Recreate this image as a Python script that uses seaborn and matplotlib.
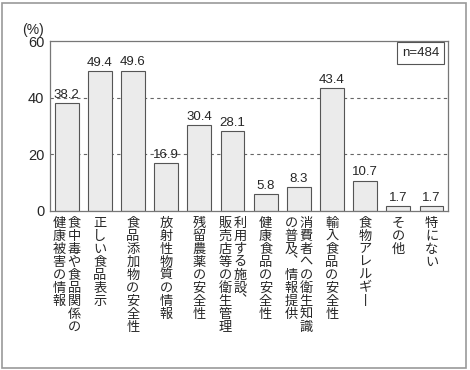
import matplotlib
matplotlib.use("Agg")
import matplotlib.pyplot as plt
import seaborn as sns
import pandas as pd
from matplotlib.patches import Rectangle

# 項目 (縦書きの列ごと、右の列から)
label_cols = [
    ["食中毒や食品関係の", "健康被害の情報"],
    ["正しい食品表示"],
    ["食品添加物の安全性"],
    ["放射性物質の情報"],
    ["残留農薬の安全性"],
    ["利用する施設︑", "販売店等の衛生管理"],
    ["健康食品の安全性"],
    ["消費者への衛生知識", "の普及︑情報提供"],
    ["輸入食品の安全性"],
    ["食物アレルギ丨"],
    ["その他"],
    ["特にない"],
]
values = [38.2, 49.4, 49.6, 16.9, 30.4, 28.1, 5.8, 8.3, 43.4, 10.7, 1.7, 1.7]
y_ticks = [0, 20, 40, 60]
n_text = "n=484"

df = pd.DataFrame({"item": ["".join(c) for c in label_cols], "pct": values})

sns.set_theme(style="white")
plt.rcParams["font.family"] = ["Liberation Sans", "Noto Sans CJK JP", "DejaVu Sans"]

fig = plt.figure(figsize=(4.7, 3.7), dpi=100)
ax = fig.add_axes([0.1064, 0.43, 0.847, 0.459])

sns.barplot(data=df, x="item", y="pct", color="#ebebeb", edgecolor="#555555",
            linewidth=0.8, width=0.72, saturation=1, ax=ax)

ax.set_ylim(0, 60)
ax.set_yticks(y_ticks)
ax.set_yticklabels([str(t) for t in y_ticks], fontsize=10.5)
ax.tick_params(axis="y", length=0, pad=4)
ax.set_xticks([])
ax.set_xlabel("")
ax.set_ylabel("")
for s in ax.spines.values():
    s.set_color("#777777")
    s.set_linewidth(0.9)

for t in y_ticks[1:-1]:
    ax.axhline(t, color="#666666", linestyle=(0, (3, 3)), linewidth=0.8, zorder=0)

# 値ラベル
for i, v in enumerate(values):
    ax.text(i, v + 0.8, f"{v:.1f}", ha="center", va="bottom", fontsize=9.5)

# 縦書きの項目名
for i, cols in enumerate(label_cols):
    k = len(cols)
    for j, col in enumerate(cols):
        dx = 0.45 * ((k - 1) / 2 - j)
        ax.text(i + dx, -2.0, "\n".join(col), ha="center", va="top",
                fontsize=9.5, linespacing=1.0, family="Noto Sans CJK JP",
                clip_on=False)

ax.text(-0.043, 1.025, "(%)", transform=ax.transAxes, ha="center", va="bottom", fontsize=10)

ax.text(0.978, 0.93, n_text, transform=ax.transAxes, ha="right", va="center",
        fontsize=9.5,
        bbox=dict(boxstyle="square,pad=0.35", fc="white", ec="#555555", lw=0.8))

fig.patches.append(Rectangle((0.004, 0.006), 0.988, 0.985, transform=fig.transFigure,
                             fill=False, ec="#999999", lw=1.2))

fig.savefig("out.png", dpi=100)
